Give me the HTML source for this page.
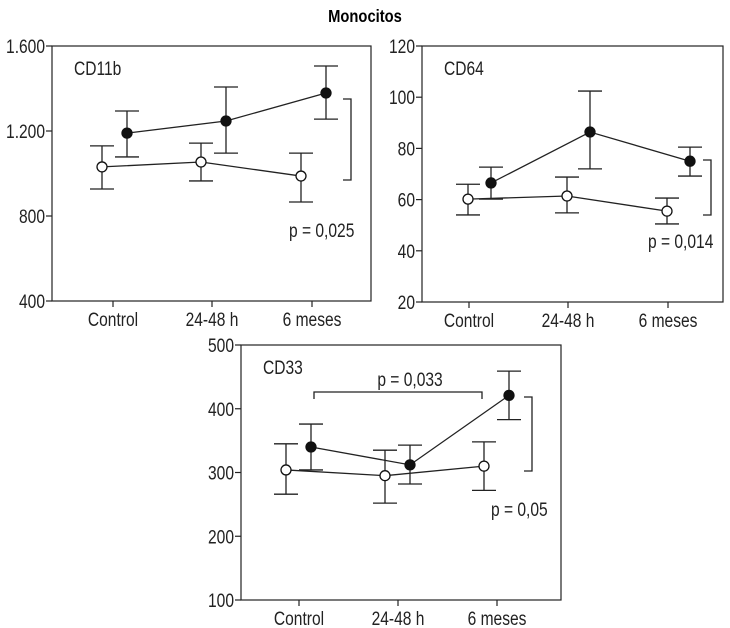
<!DOCTYPE html>
<html><head><meta charset="utf-8"><style>
html,body{margin:0;padding:0;background:#fff;}
svg{display:block;font-family:"Liberation Sans",sans-serif;}
</style></head><body>
<svg id="c" width="730" height="628" viewBox="0 0 730 628">
<text transform="translate(365,22) scale(0.82,1)" text-anchor="middle" font-size="18" font-weight="bold">Monocitos</text>
</svg>
<script>
const categories = ["Control", "24-48 h", "6 meses"];
// CD11b
const cd11bOpen = [1031, 1054, 988];
const cd11bOpenHi = [1130, 1143, 1096];
const cd11bOpenLo = [927, 965, 866];
const cd11bFilled = [1190, 1247, 1379];
const cd11bFilledHi = [1294, 1407, 1506];
const cd11bFilledLo = [1078, 1096, 1256];
const cd11bTicks = [400, 800, 1200, 1600];
const cd11bTickLabels = ["400", "800", "1.200", "1.600"];
// CD64
const cd64Open = [60.2, 61.4, 55.5];
const cd64OpenHi = [66, 68.8, 60.6];
const cd64OpenLo = [54, 54.8, 50.5];
const cd64Filled = [66.5, 86.4, 75];
const cd64FilledHi = [72.7, 102.4, 80.5];
const cd64FilledLo = [60.2, 72, 69.2];
const cd64Ticks = [20, 40, 60, 80, 100, 120];
// CD33
const cd33Open = [304, 295, 310];
const cd33OpenHi = [345, 335, 348];
const cd33OpenLo = [266, 252, 272];
const cd33Filled = [340, 312, 421];
const cd33FilledHi = [376, 343, 459];
const cd33FilledLo = [304, 282, 383];
const cd33Ticks = [100, 200, 300, 400, 500];

const NS = "http://www.w3.org/2000/svg";
const svg = document.getElementById("c");
function mk(tag, attrs, parent, text) {
  const e = document.createElementNS(NS, tag);
  for (const k in attrs) e.setAttribute(k, attrs[k]);
  if (text !== undefined) e.textContent = text;
  (parent || svg).appendChild(e);
  return e;
}
function txt(x, y, s, anchor, parent) {
  return mk("text", {transform: `translate(${x},${y}) scale(0.82,1)`, "text-anchor": anchor || "start", "font-size": 19, fill: "#222"}, parent, s);
}

function panel(o) {
  const g = mk("g", {});
  
  
  const y = v => o.y1 + (o.max - v) / (o.max - o.min) * (o.y2 - o.y1);
  const x = i => o.cx[i];
  const frame = mk("rect", {x: o.x1, y: o.y1, width: o.x2 - o.x1, height: o.y2 - o.y1, fill: "none", stroke: "#222", "stroke-width": 1.2}, g);
  
  
  o.ticks.forEach((t, i) => {
    mk("line", {x1: o.x1 - 6, x2: o.x1, y1: y(t), y2: y(t), stroke: "#222", "stroke-width": 1.2}, g);
    const tl = txt(o.x1 - 7, y(t) + 7, o.labels ? o.labels[i] : String(t), "end", g);
    
    
  });
  categories.forEach((c, i) => {
    mk("line", {x1: x(i), x2: x(i), y1: o.y2, y2: o.y2 + 6, stroke: "#222", "stroke-width": 1.2}, g);
    const cl = txt(x(i), o.y2 + 25, c, "middle", g);
    
    
  });
  const ttl = txt(o.x1 + 22, o.y1 + 29, o.title, "start", g);
  
  
  const series = [
    {v: o.open, hi: o.openHi, lo: o.openLo, off: o.offOpen, fill: "#fff", n: "open"},
    {v: o.filled, hi: o.filledHi, lo: o.filledLo, off: o.offFilled, fill: "#111", n: "filled"}
  ];
  series.forEach(s => {
    const pts = s.v.map((v, i) => (x(i) + s.off) + "," + y(v)).join(" ");
    const ln = mk("polyline", {points: pts, fill: "none", stroke: "#222", "stroke-width": 1.3}, g);
    
    
    s.v.forEach((v, i) => {
      const px = x(i) + s.off;
      const eb = mk("path", {d: `M${px - 12},${y(s.hi[i])}H${px + 12}M${px},${y(s.hi[i])}V${y(s.lo[i])}M${px - 12},${y(s.lo[i])}H${px + 12}`, stroke: "#222", "stroke-width": 1.3, fill: "none"}, g);
      
      
      const pt = mk("circle", {cx: px, cy: y(v), r: 5, fill: s.fill, stroke: "#111", "stroke-width": 1.3}, g);
      
      
    });
  });
  o.brackets.forEach(b => {
    const br = mk("path", {d: b.d, stroke: "#222", "stroke-width": 1.3, fill: "none"}, g);
    
    
    const pt = txt(b.tx, b.ty, b.text, b.anchor || "start", g);
    
    
  });
}

panel({name: "cd11b", title: "CD11b", x1: 52, x2: 371, y1: 46, y2: 301, min: 400, max: 1600,
  cx: [113, 212, 312], offOpen: -11, offFilled: 14,
  ticks: cd11bTicks, labels: cd11bTickLabels,
  open: cd11bOpen, openHi: cd11bOpenHi, openLo: cd11bOpenLo,
  filled: cd11bFilled, filledHi: cd11bFilledHi, filledLo: cd11bFilledLo,
  brackets: [{d: "M343,99H351V180H343", tx: 289, ty: 237, text: "p = 0,025"}]});

panel({name: "cd64", title: "CD64", x1: 422, x2: 723, y1: 46, y2: 302, min: 20, max: 120,
  cx: [469, 568, 668], offOpen: -1, offFilled: 22,
  ticks: cd64Ticks,
  open: cd64Open, openHi: cd64OpenHi, openLo: cd64OpenLo,
  filled: cd64Filled, filledHi: cd64FilledHi, filledLo: cd64FilledLo,
  brackets: [{d: "M703,160H711V215H703", tx: 648, ty: 248, text: "p = 0,014"}]});

panel({name: "cd33", title: "CD33", x1: 241, x2: 561, y1: 345, y2: 600, min: 100, max: 500,
  cx: [299, 398, 497], offOpen: -13, offFilled: 12,
  ticks: cd33Ticks,
  open: cd33Open, openHi: cd33OpenHi, openLo: cd33OpenLo,
  filled: cd33Filled, filledHi: cd33FilledHi, filledLo: cd33FilledLo,
  brackets: [
    {d: "M314,399V392H482V399", tx: 410, ty: 386, text: "p = 0,033", anchor: "middle"},
    {d: "M524,397H532V471H524", tx: 491, ty: 516, text: "p = 0,05"}
  ]});
</script>
</body></html>
